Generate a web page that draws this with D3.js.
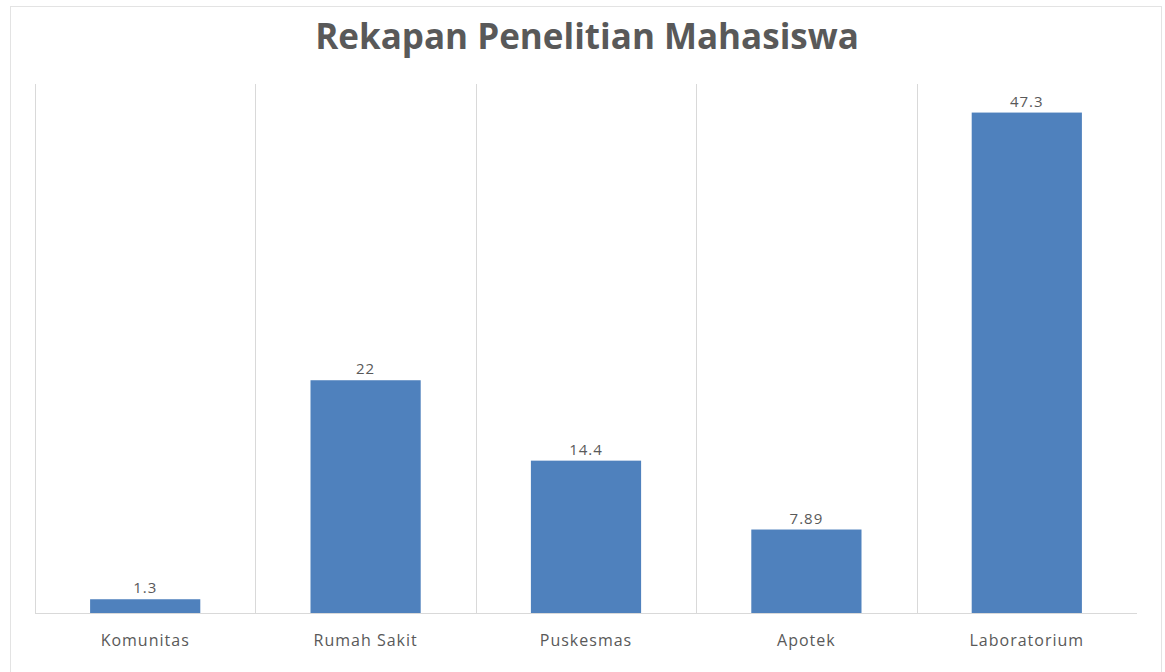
<!DOCTYPE html>
<html>
<head>
<meta charset="utf-8">
<script src="https://cdn.jsdelivr.net/npm/d3@7"></script>
<style>
  html, body { margin: 0; padding: 0; background: #fff; }
  svg { display: block; }
</style>
</head>
<body>
<svg id="chart"></svg>
<script>
const categories = ['Komunitas', 'Rumah Sakit', 'Puskesmas', 'Apotek', 'Laboratorium'];
const values = [1.3, 22, 14.4, 7.89, 47.3];
const valueLabels = ['1.3', '22', '14.4', '7.89', '47.3'];
const title = 'Rekapan Penelitian Mahasiswa';

const width = 1165, height = 672;
const margin = {top: 84, right: 28, bottom: 59, left: 35};
const innerW = width - margin.left - margin.right;
const innerH = height - margin.top - margin.bottom;

const font = '"Open Sans", "Noto Sans", sans-serif';

const svg = d3.select('#chart').attr('width', width).attr('height', height);

// Rahmen
svg.append('rect')
  .attr('x', 10.5).attr('y', 6.5)
  .attr('width', 1151).attr('height', 680)
  .attr('fill', 'none')
  .attr('stroke', '#e3e3e3');

svg.append('text')
  .attr('x', 587)
  .attr('y', 49)
  .attr('text-anchor', 'middle')
  .attr('font-family', font)
  .attr('font-weight', 'bold')
  .attr('font-size', 35)
  .attr('fill', '#595959')
  .text(title);

const g = svg.append('g').attr('transform', `translate(${margin.left},${margin.top})`);

const x = d3.scaleBand()
  .domain(categories)
  .range([0, innerW])
  .paddingInner(0.5)
  .paddingOuter(0.25);

const y = d3.scaleLinear().domain([0, 50]).range([innerH, 0]);

// vertikale Gitterlinien zwischen Kategorien
const step = x.step();
g.append('g')
  .selectAll('line')
  .data(categories)
  .join('line')
  .attr('x1', d => Math.round(x(d) - step * 0.25) + 0.5)
  .attr('x2', d => Math.round(x(d) - step * 0.25) + 0.5)
  .attr('y1', 0)
  .attr('y2', innerH)
  .attr('stroke', '#d9d9d9');

// Balken
g.append('g')
  .selectAll('rect')
  .data(values)
  .join('rect')
  .attr('x', (d, i) => x(categories[i]))
  .attr('y', d => y(d))
  .attr('width', x.bandwidth())
  .attr('height', d => innerH - y(d))
  .attr('fill', '#4f81bd');

// Grundlinie
g.append('line')
  .attr('x1', 0).attr('x2', innerW)
  .attr('y1', innerH + 0.5).attr('y2', innerH + 0.5)
  .attr('stroke', '#d9d9d9');

// Werte
g.append('g')
  .selectAll('text')
  .data(values)
  .join('text')
  .attr('x', (d, i) => x(categories[i]) + x.bandwidth() / 2)
  .attr('y', d => y(d) - 6)
  .attr('text-anchor', 'middle')
  .attr('font-family', font)
  .attr('font-size', 15)
  .attr('letter-spacing', 1)
  .attr('fill', '#595959')
  .text((d, i) => valueLabels[i]);

// Kategorien
const xAxis = d3.axisBottom(x).tickSize(0).tickPadding(0);
const xAxisG = g.append('g')
  .attr('transform', `translate(0,${innerH})`)
  .call(xAxis);
xAxisG.select('.domain').remove();
xAxisG.selectAll('text')
  .attr('dy', 0)
  .attr('y', 33)
  .attr('font-family', font)
  .attr('font-size', 16)
  .attr('letter-spacing', 1)
  .attr('fill', '#595959');
</script>
</body>
</html>
